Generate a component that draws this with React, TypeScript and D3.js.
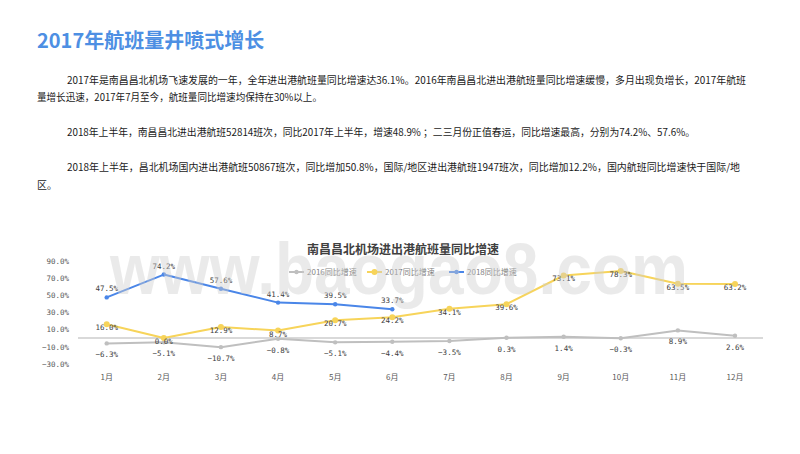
import React from 'react';
import * as d3 from 'd3';

const months = ['1月', '2月', '3月', '4月', '5月', '6月', '7月', '8月', '9月', '10月', '11月', '12月'];
const yoy2016 = [-6.3, -5.1, -10.7, -0.8, -5.1, -4.4, -3.5, 0.3, 1.4, -0.3, 8.9, 2.6];
const yoy2017 = [16.0, 0.0, 12.9, 8.7, 20.7, 24.2, 34.1, 39.6, 73.1, 78.3, 63.5, 63.2];
const yoy2018 = [47.5, 74.2, 57.6, 41.4, 39.5, 33.7];
const seriesNames = ['2016同比增速', '2017同比增速', '2018同比增速'];
const yTicks = [90, 70, 50, 30, 10, -10, -30];

const heading = '2017年航班量井喷式增长';
const chartTitle = '南昌昌北机场进出港航班量同比增速';
const paragraphs = [
    [
        '2017年是南昌昌北机场飞速发展的一年，全年进出港航班量同比增速达36.1%。2016年南昌昌北进出港航班量同比增速缓慢，多月出现负增长，2017年航班',
        '量增长迅速，2017年7月至今，航班量同比增速均保持在30%以上。',
    ],
    ['2018年上半年，南昌昌北进出港航班52814班次，同比2017年上半年，增速48.9% ；二三月份正值春运，同比增速最高，分别为74.2%、57.6%。'],
    [
        '2018年上半年，昌北机场国内进出港航班50867班次，同比增加50.8%，国际/地区进出港航班1947班次，同比增加12.2%，国内航班同比增速快于国际/地',
        '区。',
    ],
];

// line layout of the text block: [x, baseline, width]
const textLines: [number, number, number | null][][] = [
    [[67, 84, 679], [37, 101, 285]],
    [[67, 136, 628]],
    [[67, 171, 673], [37, 189, null]],
];

const COLORS = { y2016: '#bfbfbf', y2017: '#f7d45a', y2018: '#4a86e8' };
const MONO = '"DejaVu Sans Mono", monospace';
const CJK = '"Noto Sans CJK SC", sans-serif';

export default function App() {
    const x = d3.scalePoint<string>().domain(months).range([106.7, 735]);
    const y = d3.scaleLinear().domain([-30, 90]).range([363.65, 261.05]);
    const fmt = (v: number) => d3.format('.1f')(v) + '%';

    const line = d3.line<number>()
        .x((_, i) => x(months[i]) as number)
        .y((d) => y(d));

    const series = [
        { name: seriesNames[0], data: yoy2016, color: COLORS.y2016, r: 2.2, dy: 14 },
        { name: seriesNames[1], data: yoy2017, color: COLORS.y2017, r: 3, dy: 6 },
        { name: seriesNames[2], data: yoy2018, color: COLORS.y2018, r: 2.2, dy: -6 },
    ];

    const legendX = [289, 367, 449];

    return (
        <div style={{ position: 'fixed', left: 0, top: 0, width: 800, height: 454, background: '#fff' }}>
            <svg width={800} height={454} style={{ display: 'block' }}>
                <rect width={800} height={454} fill="#fff" />
                <text x={37} y={48} fontFamily={CJK} fontSize={20} fontWeight={700} fill="#4d8fe3">
                    {heading}
                </text>
                {paragraphs.map((p, pi) =>
                    p.map((s, li) => {
                        const [tx, ty, w] = textLines[pi][li];
                        return (
                            <text
                                key={`${pi}-${li}`}
                                x={tx}
                                y={ty}
                                fontFamily={CJK}
                                fontSize={10}
                                fill="#1a1a1a"
                                {...(w ? { textLength: w, lengthAdjust: 'spacingAndGlyphs' } : {})}
                            >
                                {s}
                            </text>
                        );
                    })
                )}

                {/* y axis labels */}
                {yTicks.map((t) => (
                    <text key={t} x={69} y={y(t) + 3} textAnchor="end" fontFamily={MONO} fontSize={7.5} fill="#595959">
                        {fmt(t)}
                    </text>
                ))}

                {/* zero line */}
                <line x1={78} x2={763} y1={y(0)} y2={y(0)} stroke="#d9d9d9" strokeWidth={2} />

                {/* month labels */}
                {months.map((m) => (
                    <text key={m} x={x(m)} y={380} textAnchor="middle" fontFamily={CJK} fontSize={8} fill="#595959">
                        {m}
                    </text>
                ))}

                {series.map((s) => (
                    <g key={s.name}>
                        <path d={line(s.data) ?? ''} fill="none" stroke={s.color} strokeWidth={2} strokeLinejoin="round" />
                        {s.data.map((v, i) => (
                            <circle key={i} cx={x(months[i])} cy={y(v)} r={s.r} fill={s.color} />
                        ))}
                        {s.data.map((v, i) => (
                            <text
                                key={`l${i}`}
                                x={x(months[i])}
                                y={y(v) + s.dy}
                                textAnchor="middle"
                                fontFamily={MONO}
                                fontSize={7.5}
                                fill="#404040"
                            >
                                {fmt(v)}
                            </text>
                        ))}
                    </g>
                ))}

                {/* legend */}
                {series.map((s, i) => (
                    <g key={`lg${i}`} transform={`translate(${legendX[i]},272)`}>
                        <line x1={0} x2={15} y1={0} y2={0} stroke={s.color} strokeWidth={2} />
                        <circle cx={7.5} cy={0} r={s.r} fill={s.color} />
                        <text x={18} y={3} fontFamily={CJK} fontSize={8} fill="#7f7f7f">
                            {s.name}
                        </text>
                    </g>
                ))}

                {/* watermark */}
                <text
                    x={110}
                    y={294}
                    textLength={578}
                    lengthAdjust="spacingAndGlyphs"
                    fontFamily='"Liberation Sans", sans-serif'
                    fontWeight={700}
                    fontSize={72}
                    fill="#cfcfcf"
                    opacity={0.42}
                >
                    www.baogao8.com
                </text>

                <text x={403} y={254} textAnchor="middle" fontFamily={CJK} fontSize={12} fontWeight={700} fill="#404040">
                    {chartTitle}
                </text>
            </svg>
        </div>
    );
}
